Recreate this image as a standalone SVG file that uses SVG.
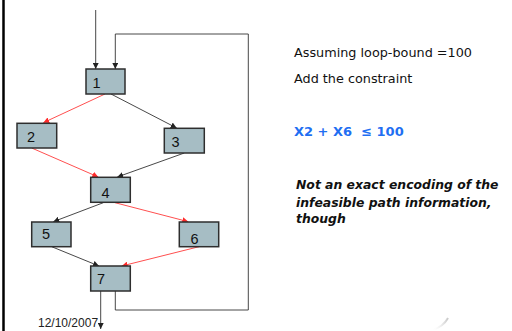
<svg xmlns="http://www.w3.org/2000/svg" width="512" height="331" viewBox="0 0 512 331">
  <defs>
    <marker id="ah" viewBox="0 0 10 10" refX="10" refY="5" markerWidth="6" markerHeight="6" markerUnits="userSpaceOnUse" orient="auto">
      <path d="M0,0 L10,5 L0,10 z" fill="#222"/>
    </marker>
    <marker id="ahr" viewBox="0 0 10 10" refX="10" refY="5" markerWidth="6" markerHeight="6" markerUnits="userSpaceOnUse" orient="auto">
      <path d="M0,0 L10,5 L0,10 z" fill="#ff2a2a"/>
    </marker>
    <linearGradient id="curl" x1="0" y1="0" x2="1" y2="0">
      <stop offset="0" stop-color="#ffffff" stop-opacity="0"/>
      <stop offset="1" stop-color="#c8c8c8"/>
    </linearGradient>
  </defs>
  <style>
    .blk { fill: #a6bdc4; stroke: #2e2e2e; stroke-width: 1.5; }
    .num { font-family: "Liberation Sans", Arial, sans-serif; font-size: 14.5px; fill: #111; }
    .e { fill: none; stroke: #333; stroke-width: 0.9; marker-end: url(#ah); }
    .r { fill: none; stroke: #ff3b3b; stroke-width: 0.9; marker-end: url(#ahr); }
    .t { font-family: "DejaVu Sans", "Open Sans", sans-serif; font-size: 12.8px; fill: #111; }
    .c { font-family: "DejaVu Sans", "Open Sans", sans-serif; font-size: 13px; font-weight: bold; fill: #1f6ff2; white-space: pre; }
    .n { font-family: "DejaVu Sans", "Open Sans", sans-serif; font-size: 12.4px; font-weight: bold; font-style: italic; fill: #111; }
    .d { font-family: "Liberation Sans", Arial, sans-serif; font-size: 12px; fill: #222; }
  </style>

  <rect width="512" height="331" fill="#ffffff"/>
  <!-- slide edge on the left -->
  <line x1="3.5" y1="0" x2="3.5" y2="331" stroke="#000" stroke-width="2.5"/>

  <!-- control-flow edges -->
  <g id="edges">
    <line class="e" x1="95.7" y1="10" x2="95.7" y2="69"/>
    <polyline class="e" points="115.3,291 115.3,310 248.3,310 248.3,34 115.3,34 115.3,69"/>
    <line class="r" x1="105" y1="94" x2="43.3" y2="122.7"/>
    <line class="e" x1="111" y1="94" x2="176.7" y2="128"/>
    <line class="r" x1="31.7" y1="148" x2="98.3" y2="177"/>
    <line class="e" x1="184.3" y1="153" x2="117.3" y2="177"/>
    <line class="e" x1="103.3" y1="202.7" x2="53.3" y2="221.7"/>
    <line class="r" x1="115" y1="202.7" x2="188.3" y2="221.7"/>
    <line class="e" x1="51.7" y1="246.7" x2="99" y2="266"/>
    <line class="r" x1="199" y1="246.7" x2="121.7" y2="266"/>
    <line class="e" x1="100.7" y1="291" x2="100.7" y2="329"/>
  </g>

  <!-- basic blocks -->
  <g id="n1"><rect class="blk" x="86" y="69" width="39" height="25"/><text class="num" x="92.5" y="87.5">1</text></g>
  <g id="n2"><rect class="blk" x="17" y="123.3" width="39.7" height="24.7"/><text class="num" x="27" y="142">2</text></g>
  <g id="n3"><rect class="blk" x="164.3" y="128.3" width="40" height="24.7"/><text class="num" x="171.5" y="147">3</text></g>
  <g id="n4"><rect class="blk" x="90.7" y="177.3" width="39.6" height="25"/><text class="num" x="101.5" y="198">4</text></g>
  <g id="n5"><rect class="blk" x="31.7" y="222" width="39.3" height="24.7"/><text class="num" x="42" y="238.5">5</text></g>
  <g id="n6"><rect class="blk" x="179.3" y="222" width="39.4" height="24.7"/><text class="num" x="190.5" y="244">6</text></g>
  <g id="n7"><rect class="blk" x="90.7" y="266" width="39.6" height="25"/><text class="num" x="97" y="284">7</text></g>

  <!-- notes -->
  <text class="t" x="294" y="56.5">Assuming loop-bound =100</text>
  <text class="t" x="294" y="82.5">Add the constraint</text>
  <text class="c" x="294" y="136" xml:space="preserve">X2 + X6  ≤ 100</text>
  <text class="n" x="296" y="189">Not an exact encoding of the</text>
  <text class="n" x="296" y="206.5">infeasible path information,</text>
  <text class="n" x="296" y="222.5">though</text>

  <text class="d" x="38" y="327">12/10/2007</text>

  <!-- faint page curl -->
  <path d="M432,330 Q443,327 448,318" fill="none" stroke="url(#curl)" stroke-width="2"/>
</svg>
